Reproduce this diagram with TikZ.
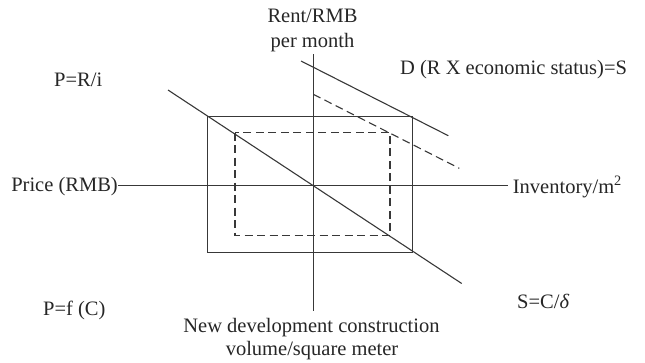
\documentclass[tikz,border=0pt]{standalone}
\usepackage{fontspec}
\setmainfont{Liberation Serif}
\begin{document}
\begin{tikzpicture}[x=1pt,y=-1pt,
  ln/.style={line width=1.1pt, draw=black!78},
  dsh/.style={ln, dash pattern=on 8pt off 4.5pt},
  lbl/.style={inner sep=0pt, text=black!85, font=\fontsize{20.5}{24}\selectfont}]
\useasboundingbox (0,0) rectangle (645,362);
% axes
\coordinate (yt) at (313.3,54);
\coordinate (yb) at (313.3,311);
\coordinate (xl) at (118,185.8);
\coordinate (xr) at (508,185.8);
\draw[ln] (yt) -- (yb);
\draw[ln] (xl) -- (xr);
% rectangles
\coordinate (r1) at (207.3,116.7);
\coordinate (r2) at (412.7,252.3);
\draw[ln] (r1) rectangle (r2);
\coordinate (d1) at (235,132.7);
\coordinate (d2) at (390,235.7);
\draw[dsh] (d1) rectangle (d2);
% main diagonal
\coordinate (ga) at (168,90);
\coordinate (gb) at (461.7,283.5);
\draw[ln] (ga) -- (gb);
% demand lines
\coordinate (sa) at (301,61);
\coordinate (sb) at (448.3,135.7);
\draw[ln] (sa) -- (sb);
\coordinate (ea) at (313.3,94.3);
\coordinate (eb) at (459.3,168.3);
\draw[dsh] (ea) -- (eb);
% labels
\node[lbl, anchor=base] (rent1) at (312.5,22.7) {Rent/RMB};
\node[lbl, anchor=base] (rent2) at (312.5,47) {per month};
\node[lbl, anchor=base west] (dl) at (400,74) {D (R X economic status)=S};
\node[lbl, anchor=base west] (pri) at (54,86.7) {P=R/i};
\node[lbl, anchor=base east] (price) at (118,191.5) {Price (RMB)};
\node[lbl, anchor=base west] (inv) at (512.7,193.5) {Inventory/m\textsuperscript{2}};
\node[lbl, anchor=base west] (pfc) at (43,315) {P=f (C)};
\node[lbl, anchor=base west] (scd) at (517,308) {S=C/\textit{δ}};
\node[lbl, anchor=base] (new1) at (311.5,332) {New development construction};
\node[lbl, anchor=base] (new2) at (312,355) {volume/square meter};
\end{tikzpicture}
\end{document}
